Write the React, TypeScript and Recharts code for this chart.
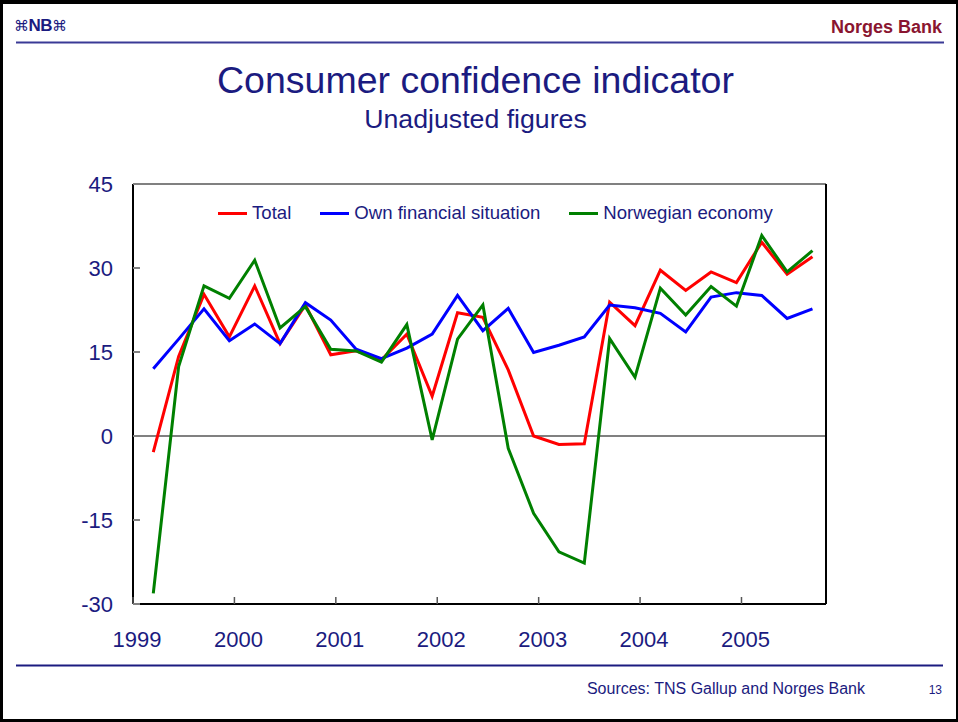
import React from 'react';
import { LineChart, Line, XAxis, YAxis, ReferenceLine, Legend } from 'recharts';

const quarters = [
  '1999Q1', '1999Q2', '1999Q3', '1999Q4',
  '2000Q1', '2000Q2', '2000Q3', '2000Q4',
  '2001Q1', '2001Q2', '2001Q3', '2001Q4',
  '2002Q1', '2002Q2', '2002Q3', '2002Q4',
  '2003Q1', '2003Q2', '2003Q3', '2003Q4',
  '2004Q1', '2004Q2', '2004Q3', '2004Q4',
  '2005Q1', '2005Q2', '2005Q3',
];

const total = [
  -2.9, 14.2, 25.3, 17.7, 26.8, 16.5, 23.4, 14.5, 15.2, 13.6, 18.2, 7.1, 22.0, 21.2,
  11.8, 0, -1.5, -1.4, 23.9, 19.7, 29.6, 26.0, 29.3, 27.4, 34.6, 28.9, 32.0,
];

const ownFinancial = [
  12.0, 17.3, 22.7, 17.0, 20.0, 16.5, 23.8, 20.7, 15.5, 13.8, 15.7, 18.2, 25.1, 18.8,
  22.8, 14.9, 16.2, 17.7, 23.4, 22.9, 21.9, 18.6, 24.8, 25.6, 25.1, 21.0, 22.7,
];

const norwegianEconomy = [
  -28.1, 12.4, 26.8, 24.6, 31.4, 19.3, 23.1, 15.5, 15.2, 13.2, 19.9, -0.7, 17.3, 23.4,
  -2.2, -13.8, -20.7, -22.7, 17.4, 10.5, 26.4, 21.6, 26.7, 23.2, 35.8, 29.3, 33.1,
];

const yearTicks = [1999, 2000, 2001, 2002, 2003, 2004, 2005];
const valueTicks = [-30, -15, 0, 15, 30, 45];
const seriesOrder = ['total', 'own', 'nor'];

const NAVY = '#1b1b80';
const FONT = '"Liberation Sans", Arial, sans-serif';

// position of each quarterly observation on the time axis (mid of the quarter's last month)
const data = quarters.map((q, i) => ({
  t: Number(q.slice(0, 4)) + (Number(q.slice(5)) * 3 - 0.6) / 12,
  total: total[i],
  own: ownFinancial[i],
  nor: norwegianEconomy[i],
}));

const LeftTick = (props: any) => {
  const { x, y, payload } = props;
  return (
    <g>
      <text x={x} y={y} textAnchor="end" dominantBaseline="central" fontSize={22} fill={NAVY} fontFamily={FONT}>
        {payload.value}
      </text>
      <line x1={x + 20} x2={x + 27} y1={y} y2={y} stroke="#808080" strokeWidth={2} />
    </g>
  );
};

const RightTick = (props: any) => {
  const { x, y, payload } = props;
  return (
    <g>
      <text x={x} y={y} textAnchor="start" dominantBaseline="central" fontSize={22} fill={NAVY} fontFamily={FONT}>
        {payload.value}
      </text>
      <line x1={x - 20} x2={x - 27} y1={y} y2={y} stroke="#808080" strokeWidth={2} />
    </g>
  );
};

const BottomTick = (props: any) => {
  const { x, y, payload } = props;
  return (
    <g>
      <text x={x + 4} y={y + 43} textAnchor="middle" fontSize={22} fill={NAVY} fontFamily={FONT}>
        {payload.value}
      </text>
      <line x1={x} x2={x} y1={y} y2={y - 7} stroke="#555555" strokeWidth={1.5} />
    </g>
  );
};

const renderLegend = (props: any) => {
  const payload = [...(props.payload || [])].sort(
    (a: any, b: any) => seriesOrder.indexOf(a.dataKey) - seriesOrder.indexOf(b.dataKey),
  );
  return (
    <div style={{ display: 'flex', alignItems: 'center', fontFamily: FONT, fontSize: 18.6, color: NAVY, whiteSpace: 'nowrap' }}>
      {payload.map((entry: any, i: number) => (
        <div key={i} style={{ display: 'flex', alignItems: 'center', marginRight: 29 }}>
          <span style={{ display: 'inline-block', width: 29, height: 3, background: entry.color, marginRight: 5 }} />
          <span>{entry.value}</span>
        </div>
      ))}
    </div>
  );
};

export default function App() {
  return (
    <div style={{ position: 'absolute', left: 0, top: 0, width: 958, height: 722, background: '#fff', overflow: 'hidden' }}>
      <svg width={958} height={722} style={{ position: 'absolute', left: 0, top: 0 }}>
        <text x={14} y={31} fontSize={17} fontWeight="bold" fill={NAVY} fontFamily={FONT} letterSpacing={-0.5}>
          <tspan fontFamily="DejaVu Sans" fontWeight="normal" fontSize={15}>⌘</tspan>NB<tspan fontFamily="DejaVu Sans" fontWeight="normal" fontSize={15}>⌘</tspan>
        </text>
        <text x={942} y={33} textAnchor="end" fontSize={18} fontWeight="bold" fill="#8a1530" fontFamily={FONT}>
          Norges Bank
        </text>
        <line x1={16} x2={944} y1={42.5} y2={42.5} stroke="#3a3a96" strokeWidth={2} />
        <text x={475.5} y={93} textAnchor="middle" fontSize={37.5} fill={NAVY} fontFamily={FONT}>
          Consumer confidence indicator
        </text>
        <text x={475.5} y={128} textAnchor="middle" fontSize={26.7} fill={NAVY} fontFamily={FONT}>
          Unadjusted figures
        </text>
        <line x1={16} x2={943} y1={665.5} y2={665.5} stroke="#1b1b80" strokeWidth={2} />
        <text x={865} y={694} textAnchor="end" fontSize={16} fill={NAVY} fontFamily={FONT}>
          Sources: TNS Gallup and Norges Bank
        </text>
        <text x={942} y={694} textAnchor="end" fontSize={12} fill={NAVY} fontFamily={FONT}>
          13
        </text>
      </svg>
      <div style={{ position: 'absolute', left: 0, top: 0 }}>
        <LineChart width={958} height={722} data={data} margin={{ top: 184, right: 0, bottom: 0, left: 0 }}>
          <XAxis
            dataKey="t"
            type="number"
            domain={[1999, 2005 + 10 / 12]}
            ticks={yearTicks}
            interval={0}
            height={118}
            tickSize={0}
            tickMargin={0}
            tick={<BottomTick />}
            axisLine={{ stroke: '#000', strokeWidth: 2 }}
            allowDataOverflow
          />
          <YAxis
            yAxisId="left"
            orientation="left"
            domain={[-30, 45]}
            ticks={valueTicks}
            interval={0}
            width={133}
            tickSize={0}
            tickMargin={20}
            tick={<LeftTick />}
            axisLine={{ stroke: '#000', strokeWidth: 2 }}
          />
          <YAxis
            yAxisId="right"
            orientation="right"
            domain={[-30, 45]}
            ticks={valueTicks}
            interval={0}
            width={132}
            tickSize={0}
            tickMargin={20}
            tick={<RightTick />}
            axisLine={{ stroke: '#000', strokeWidth: 2 }}
          />
          <ReferenceLine yAxisId="left" y={45} stroke="#808080" strokeWidth={2} />
          <ReferenceLine yAxisId="left" y={0} stroke="#808080" strokeWidth={2} />
          <Legend
            content={renderLegend}
            layout="horizontal"
            verticalAlign="middle"
            align="center"
            wrapperStyle={{ position: 'absolute', top: 202, left: 218, width: 620 }}
          />
          <Line yAxisId="left" type="linear" dataKey="total" name="Total" stroke="#ff0000" strokeWidth={3} dot={false} isAnimationActive={false} />
          <Line yAxisId="left" type="linear" dataKey="own" name="Own financial situation" stroke="#0000ff" strokeWidth={3} dot={false} isAnimationActive={false} />
          <Line yAxisId="left" type="linear" dataKey="nor" name="Norwegian economy" stroke="#008000" strokeWidth={3} dot={false} isAnimationActive={false} />
        </LineChart>
      </div>
      <div
        style={{
          position: 'absolute', left: 0, top: 0, width: 958, height: 722, boxSizing: 'border-box',
          borderTop: '4px solid #000', borderLeft: '3px solid #000', borderRight: '2px solid #000', borderBottom: '3px solid #000',
          pointerEvents: 'none',
        }}
      />
    </div>
  );
}
